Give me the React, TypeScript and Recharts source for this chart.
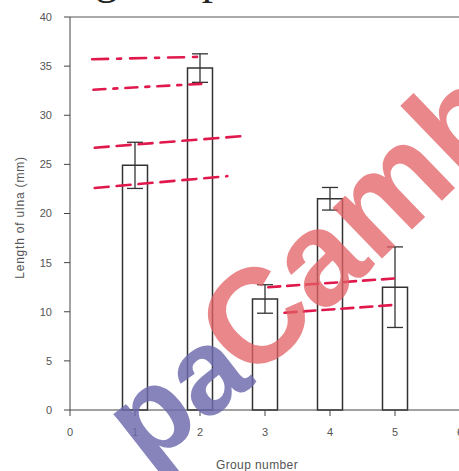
import { BarChart, Bar, ErrorBar, XAxis, YAxis, ReferenceLine } from 'recharts'

// group means and error half-widths
const groups = [1, 2, 3, 4, 5]
const ulnaLength = [24.9, 34.8, 11.3, 21.5, 12.5]
const ulnaError = [2.35, 1.45, 1.45, 1.15, 4.1]

const xTicks = [0, 1, 2, 3, 4, 5, 6]
const yTicks = [0, 5, 10, 15, 20, 25, 30, 35, 40]

// hand-drawn red marks on top of the plot: [x1, y1, x2, y2] in data units
const redMarks = [
  [0.34, 35.7, 2.03, 35.95],
  [0.36, 32.6, 2.03, 33.2],
  [0.38, 26.7, 2.7, 27.9],
  [0.38, 22.6, 2.42, 23.8],
  [3.05, 12.5, 5.02, 13.4],
  [3.3, 9.9, 5.0, 10.7],
]
const redDash = ['16 9 4 9', '12 8 4 8', '14 8', '14 8', '12 7', '12 7']

const data = groups.map((g, i) => ({ group: g, length: ulnaLength[i], err: ulnaError[i] }))

const axisFont = { fontSize: 11, fill: '#555', fontFamily: 'Liberation Sans, Arial, sans-serif' }

export default function App() {
  return (
    <div style={{ position: 'absolute', top: 0, left: 0, width: 459, height: 471, overflow: 'hidden', background: '#fff' }}>
      <BarChart
        width={468}
        height={471}
        data={data}
        margin={{ top: 17, right: 8, left: 10, bottom: 0 }}
      >
        <XAxis
          dataKey="group"
          type="number"
          domain={[0, 6]}
          ticks={xTicks}
          interval={0}
          height={61}
          tickSize={6}
          tickMargin={12}
          tick={axisFont}
          stroke="#444"
          label={{
            value: 'Group number',
            position: 'insideBottom',
            offset: 2,
            dx: -8,
            style: { ...axisFont, fontSize: 12, letterSpacing: 0.4 },
          }}
        />
        <YAxis
          type="number"
          domain={[0, 40]}
          ticks={yTicks}
          interval={0}
          width={60}
          tickSize={6}
          tickMargin={12}
          tick={axisFont}
          stroke="#444"
          label={{
            value: 'Length of ulna (mm)',
            angle: -90,
            position: 'center',
            dx: -20,
            dy: 4,
            style: { ...axisFont, fontSize: 12, letterSpacing: 0.8, textAnchor: 'middle' },
          }}
        />
        <ReferenceLine y={40} stroke="#555" strokeWidth={1.2} />
        <Bar dataKey="length" barSize={25} fill="#fff" stroke="#333" strokeWidth={1.5} isAnimationActive={false}>
          <ErrorBar dataKey="err" width={8} stroke="#333" strokeWidth={1.3} direction="y" />
        </Bar>
        {redMarks.map((m, i) => (
          <ReferenceLine
            key={i}
            segment={[{ x: m[0], y: m[1] }, { x: m[2], y: m[3] }]}
            stroke="#e0184c"
            strokeWidth={2.6}
            strokeDasharray={redDash[i]}
            strokeLinecap="round"
          />
        ))}
      </BarChart>
      <svg
        width={459}
        height={471}
        style={{ position: 'absolute', top: 0, left: 0, pointerEvents: 'none' }}
      >
        <text x={0} y={-6} fontSize={45} fontFamily="Liberation Serif, Times New Roman, serif" fill="#222">
          Young sample
        </text>
        <text
          x={252}
          y={384}
          transform="rotate(-44 252 384)"
          fontSize={134}
          fontWeight="bold"
          fontFamily="Liberation Sans, Arial, sans-serif"
          fill="#e35f64"
          opacity={0.75}
        >
          Cambridge
        </text>
        <text
          x={146}
          y={469}
          transform="rotate(-38 146 469)"
          fontSize={120}
          fontWeight="bold"
          fontFamily="Liberation Sans, Arial, sans-serif"
          fill="#6d6aae"
          opacity={0.82}
        >
          pa
        </text>
      </svg>
    </div>
  )
}
